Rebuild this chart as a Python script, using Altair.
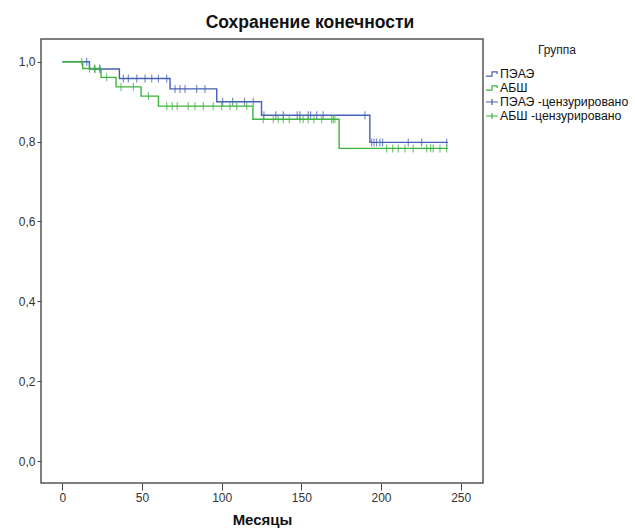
import altair as alt
import pandas as pd

# Kaplan-Meier step points (months, survival)
peae_t = [0, 17, 35.8, 67.6, 96.9, 125, 193, 242]
peae_s = [1.0, 0.982, 0.958, 0.932, 0.900, 0.866, 0.798, 0.798]
absh_t = [0, 12.8, 24.3, 33.7, 49.4, 60.3, 119.6, 173.7, 242]
absh_s = [1.0, 0.983, 0.961, 0.937, 0.914, 0.889, 0.856, 0.783, 0.783]

# Censored observation times (months)
peae_cens = [15.3, 20.5, 23.7, 38.3, 41.4, 46.7, 51.9, 56.1, 60.3, 65.5,
             70.7, 73.8, 77.0, 84.3, 89.5, 100.6, 106.9, 114.3, 119.8,
             126.5, 134.0, 138.7, 147.4, 149.1, 154.3, 155.8, 159.6, 163.7, 189.9,
             194.1, 195.6, 197.2, 199.3, 201.0, 217.1, 225.5, 241.2]
absh_cens = [12.2, 17.1, 20.1, 23.3, 27.8, 36.8, 44.6, 54.0,
             65.5, 69.0, 72.1, 79.0, 83.2, 88.5, 94.7, 100.0, 105.2, 109.4, 115.7,
             126.1, 132.4, 135.5, 138.7, 142.4, 149.1, 151.2, 154.3, 157.9, 162.7,
             169.0, 170.0, 171.0,
             203.5, 207.3, 210.8, 215.0, 220.2, 228.6, 231.1, 232.8, 237.0, 241.2]

cats = ["ПЭАЭ", "АБШ", "ПЭАЭ -цензурировано", "АБШ -цензурировано"]
BLUE = "#4560b5"
GREEN = "#3cb43c"
colors = [BLUE, GREEN, BLUE, GREEN]
step_icon = "M-1,0.35L0,0.35L0,-0.35L0.85,-0.35L0.85,0"
cross_icon = "M-1,0L1,0M0,-0.5L0,0.5"
shapes = [step_icon, step_icon, cross_icon, cross_icon]

x_ticks = [0, 50, 100, 150, 200, 250]
y_ticks = [0.0, 0.2, 0.4, 0.6, 0.8, 1.0]


def level(ts, ss, t):
    v = ss[0]
    for a, b in zip(ts, ss):
        if a <= t:
            v = b
    return v


line_df = pd.DataFrame(
    [{"t": t, "s": s, "cat": cats[0]} for t, s in zip(peae_t, peae_s)]
    + [{"t": t, "s": s, "cat": cats[1]} for t, s in zip(absh_t, absh_s)]
)
cens_df = pd.DataFrame(
    [{"t": t, "s": level(peae_t, peae_s, t), "cat": cats[2]} for t in peae_cens]
    + [{"t": t, "s": level(absh_t, absh_s, t), "cat": cats[3]} for t in absh_cens]
)

FONT = "Liberation Sans"

xs = alt.Scale(domain=[-13.4, 264], nice=False, zero=False)
ys = alt.Scale(domain=[-0.055, 1.057], nice=False, zero=False)
cs = alt.Scale(domain=cats, range=colors)

x_enc = alt.X("t:Q", scale=xs, title="Месяцы",
              axis=alt.Axis(values=x_ticks, grid=False, domain=False, tickSize=7,
                            tickColor="#444", labelFont=FONT, labelFontSize=12,
                            labelColor="#333", labelPadding=2,
                            titleFont=FONT, titleFontSize=15, titleFontWeight="bold",
                            titleColor="#111", titlePadding=9))
y_enc = alt.Y("s:Q", scale=ys, title=None,
              axis=alt.Axis(values=y_ticks, grid=False, domain=False, tickSize=4,
                            tickColor="#444", labelFont=FONT, labelFontSize=12,
                            labelColor="#333", labelPadding=2,
                            labelExpr="replace(format(datum.value, '.1f'), '.', ',')"))

leg = alt.Legend(orient="none", legendX=444, legendY=6,
                 symbolSize=144, symbolStrokeWidth=1.2,
                 symbolFillColor="transparent", symbolOpacity=1,
                 titleFont=FONT, titleFontSize=12,
                 titleFontWeight="normal", titleColor="#222",
                 titleAnchor="middle", titlePadding=10,
                 labelFont=FONT, labelFontSize=12.3,
                 labelColor="#111", labelOffset=1,
                 rowPadding=0, padding=0, labelLimit=200)

legend_layer = alt.Chart(cens_df).transform_filter(alt.datum.t < -1000).mark_point(
    filled=False, strokeWidth=1.2, opacity=1).encode(
    x=x_enc, y=y_enc,
    color=alt.Color("cat:N", scale=cs, title="Группа", legend=leg),
    shape=alt.Shape("cat:N", scale=alt.Scale(domain=cats, range=shapes),
                    title="Группа", legend=leg),
)

base_line = alt.Chart(line_df).mark_line(interpolate="step-after", strokeWidth=1.4)
blue_line = base_line.transform_filter(alt.datum.cat == cats[0]).encode(
    x=x_enc, y=y_enc, color=alt.value(BLUE))
green_line = base_line.transform_filter(alt.datum.cat == cats[1]).encode(
    x=x_enc, y=y_enc, color=alt.value(GREEN))

base_tick = alt.Chart(cens_df).mark_tick(orient="vertical", size=8, thickness=1.2)
blue_ticks = base_tick.transform_filter(alt.datum.cat == cats[2]).encode(
    x=x_enc, y=y_enc, color=alt.value(BLUE))
green_ticks = base_tick.transform_filter(alt.datum.cat == cats[3]).encode(
    x=x_enc, y=y_enc, color=alt.value(GREEN))

chart = alt.layer(legend_layer, blue_line, blue_ticks, green_line, green_ticks).properties(
    width=442, height=444,
    title=alt.TitleParams("Сохранение конечности", font=FONT, fontSize=17.5,
                          fontWeight="bold", color="#111", anchor="middle",
                          dx=48, offset=8),
    autosize=alt.AutoSizeParams(type="none"),
    padding={"left": 41, "top": 39, "right": 152, "bottom": 49},
).configure(background="white", view=alt.ViewConfig(stroke="#555", strokeWidth=1.5))

chart.save("out.html", embed_options={"renderer": "svg", "actions": False})
